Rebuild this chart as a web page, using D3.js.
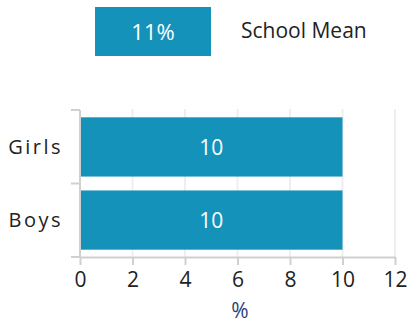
<!DOCTYPE html>
<meta charset="utf-8">
<style>
body { margin: 0; background: #fff; font-family: "Open Sans", sans-serif; }
.axis path, .axis line { stroke: #d0d0d0; stroke-width: 2; }
.axis text { font-family: "Open Sans", sans-serif; fill: #222; }
.grid line { stroke: #eeeeee; stroke-width: 2; }
</style>
<body>
<script src="https://cdn.jsdelivr.net/npm/d3@7"></script>
<script>

// data
var categories = ["Girls", "Boys"];
var values = [10, 10];
var schoolMean = 11;
var xTicks = [0, 2, 4, 6, 8, 10, 12];

var W = 408, H = 323;
var margin = {top: 110, right: 13, bottom: 66, left: 80},
    width = W - margin.left - margin.right,
    height = H - margin.top - margin.bottom;

var svg = d3.select("body").append("svg")
    .attr("width", W)
    .attr("height", H);

// legend
var leg = svg.append("g");
leg.append("rect")
    .attr("x", 95).attr("y", 7)
    .attr("width", 116).attr("height", 49)
    .attr("fill", "#1592b9");
leg.append("text")
    .attr("x", 153).attr("y", 40)
    .attr("text-anchor", "middle")
    .attr("fill", "#fff")
    .style("font-size", "22px")
    .text(schoolMean + "%");
leg.append("text")
    .attr("x", 241).attr("y", 38)
    .attr("fill", "#222")
    .style("font-size", "21px")
    .text("School Mean");

var g = svg.append("g")
    .attr("transform", "translate(" + margin.left + "," + margin.top + ")");

var x = d3.scaleLinear().domain([0, 12]).range([0, width]);
var y = d3.scaleBand().domain(categories).range([0, height]).paddingInner(0.19).paddingOuter(0.1);

// grid
g.append("g").attr("class", "grid")
    .selectAll("line").data(xTicks.slice(1)).enter().append("line")
    .attr("x1", function(d) { return x(d); })
    .attr("x2", function(d) { return x(d); })
    .attr("y1", -1).attr("y2", height);

// bars
g.selectAll(".bar").data(values).enter().append("rect")
    .attr("class", "bar")
    .attr("x", x(0) + 1)
    .attr("y", function(d, i) { return y(categories[i]); })
    .attr("width", function(d) { return x(d) - x(0) - 1; })
    .attr("height", y.bandwidth())
    .attr("fill", "#1592b9");

g.selectAll(".val").data(values).enter().append("text")
    .attr("x", function(d) { return x(d / 2); })
    .attr("y", function(d, i) { return y(categories[i]) + y.bandwidth() / 2 + 8; })
    .attr("text-anchor", "middle")
    .attr("fill", "#fff")
    .style("font-size", "21px")
    .text(function(d) { return d; });

// x axis
var xAxis = g.append("g").attr("class", "axis")
    .attr("transform", "translate(0," + height + ")")
    .call(d3.axisBottom(x).tickValues(xTicks).tickSize(8).tickSizeOuter(0).tickPadding(7));
xAxis.selectAll("text").style("font-size", "21px");

// y axis with ticks at band boundaries
var yAxis = g.append("g").attr("class", "axis");
yAxis.append("line")
    .attr("x1", 0).attr("x2", 0).attr("y1", 0).attr("y2", height);
var bounds = [0, (y(categories[0]) + y.bandwidth() + y(categories[1])) / 2, height];
yAxis.selectAll(".tk").data(bounds).enter().append("line")
    .attr("x1", -9).attr("x2", 0)
    .attr("y1", function(d) { return d; })
    .attr("y2", function(d) { return d; });
yAxis.selectAll(".lbl").data(categories).enter().append("text")
    .attr("x", -17)
    .attr("y", function(d) { return y(d) + y.bandwidth() / 2 + 7; })
    .attr("text-anchor", "end")
    .style("font-size", "20px")
    .style("letter-spacing", "2.5px")
    .text(function(d) { return d; });

// x label
svg.append("text")
    .attr("x", 240).attr("y", 318)
    .attr("text-anchor", "middle")
    .attr("fill", "#2b3f7e")
    .style("font-size", "21px")
    .text("%");

</script>
</body>
